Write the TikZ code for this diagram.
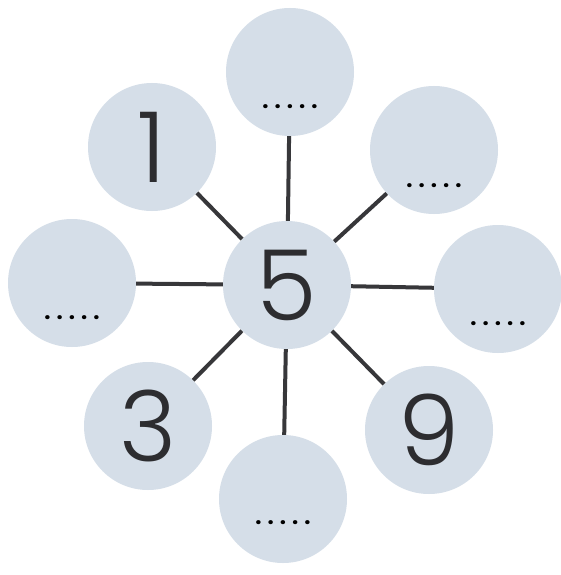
\documentclass[tikz,border=0pt]{standalone}
\usepackage{fontspec}
\setmainfont{Poppins}[UprightFont=*-Light,BoldFont=*-Bold]
\definecolor{discfill}{RGB}{213,222,232}
\definecolor{linegray}{RGB}{55,55,58}
\definecolor{digitgray}{RGB}{45,45,48}
\begin{document}
\begin{tikzpicture}[x=1pt,y=-1pt,
  disc/.style={circle,fill=discfill,minimum size=128pt,inner sep=0pt,
    text=digitgray,font=\fontsize{98}{98}\selectfont},
  spoke/.style={draw=linegray,line width=4pt},
  dotrow/.style={inner sep=0pt,text=black,font=\fontsize{22}{22}\selectfont\bfseries}]
\useasboundingbox (0,0) rectangle (561,575);
\fill[white] (0,0) rectangle (561,575);
\node[disc] (c) at (287,285) {5};
\node[disc] (t) at (290,72) {};
\node[disc] (tl) at (152,147) {1};
\node[disc] (tr) at (434,150) {};
\node[disc] (l) at (72,283) {};
\node[disc] (r) at (498,289) {};
\node[disc] (bl) at (148,426) {3};
\node[disc] (br) at (429,430) {9};
\node[disc] (b) at (283,499) {};
\newcommand{\dotline}{.\hspace{6pt}.\hspace{6pt}.\hspace{6pt}.\hspace{6pt}.}
\node[dotrow] (td) at ([yshift=-35pt]t.center) {\dotline};
\node[dotrow] (trd) at ([yshift=-36pt]tr.center) {\dotline};
\node[dotrow] (ld) at ([yshift=-35pt]l.center) {\dotline};
\node[dotrow] (rd) at ([yshift=-35pt]r.center) {\dotline};
\node[dotrow] (bd) at ([yshift=-24pt]b.center) {\dotline};
\foreach \n in {t,tl,tr,l,r,bl,br,b}{
  \draw[spoke] (c) -- (\n);
}
\end{tikzpicture}
\end{document}
